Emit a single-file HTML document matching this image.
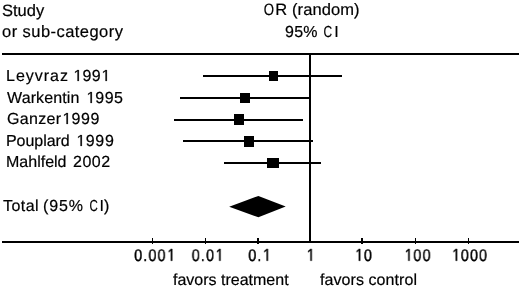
<!DOCTYPE html>
<html><head><meta charset="utf-8">
<style>
html,body{margin:0;padding:0;background:#fff;}
body{width:520px;height:289px;position:relative;overflow:hidden;font-family:"Liberation Sans",sans-serif;color:#000;text-rendering:geometricPrecision;}
.t{position:absolute;white-space:nowrap;font-size:16px;line-height:16px;-webkit-text-stroke:0.2px #000;will-change:transform;}
.h{font-size:16.5px;line-height:16.5px;}
.c{transform:translateX(-50%);}
.ax{font-size:17px;line-height:17px;transform:translateX(-50%) scaleX(0.84);--ls:1.4px;letter-spacing:var(--ls);-webkit-text-stroke:0.45px #000;}
.ax .o path{stroke-width:55;}
.l{position:absolute;background:#000;}
.o{display:inline-block;position:relative;width:0.556em;height:0.688em;margin-right:var(--ls,0px);}
.o svg{position:absolute;left:0;top:0;width:0.556em;height:0.688em;overflow:visible;}
</style></head><body>
<div class="t h" style="left:2px;top:2.9px">Study</div>
<div class="t h" style="left:2px;top:24.2px;--ls:0.45px;letter-spacing:var(--ls)">or sub-category</div>
<div class="t h c" style="left:311px;top:2.3px;--ls:0.08px;letter-spacing:var(--ls)"><span style="display:inline-block;transform:scaleX(0.8)">O</span>R (random)</div>
<div class="t c" style="left:311.9px;top:25.4px;--ls:0.25px;letter-spacing:var(--ls)">95% <span style="display:inline-block;transform:scaleX(0.75)">C</span>I</div>

<div class="l" style="left:2px;top:53px;width:517px;height:2px"></div>

<div class="t" style="left:6.4px;top:68.8px;--ls:0.98px;letter-spacing:var(--ls)">Leyvraz</div>
<div class="t" style="left:73.22px;top:68.8px;--ls:0.49px;letter-spacing:var(--ls)"><span class="o"><svg viewBox="0 0 1139 1409" preserveAspectRatio="none"><path d="M573 1409L573 172L255 399L255 229L588 0L754 0L754 1409Z" fill="#000" stroke="#000" stroke-width="26"/></svg></span>99<span class="o"><svg viewBox="0 0 1139 1409" preserveAspectRatio="none"><path d="M573 1409L573 172L255 399L255 229L588 0L754 0L754 1409Z" fill="#000" stroke="#000" stroke-width="26"/></svg></span></div>
<div class="t" style="left:7.2px;top:90.9px;--ls:0.12px;letter-spacing:var(--ls)">Warkentin</div>
<div class="t" style="left:85.93px;top:90.9px;--ls:0.44px;letter-spacing:var(--ls)"><span class="o"><svg viewBox="0 0 1139 1409" preserveAspectRatio="none"><path d="M573 1409L573 172L255 399L255 229L588 0L754 0L754 1409Z" fill="#000" stroke="#000" stroke-width="26"/></svg></span>995</div>
<div class="t" style="left:6.5px;top:112.1px;--ls:0.3px;letter-spacing:var(--ls)">Ganzer</div>
<div class="t" style="left:62.36px;top:112.1px;--ls:0.61px;letter-spacing:var(--ls)"><span class="o"><svg viewBox="0 0 1139 1409" preserveAspectRatio="none"><path d="M573 1409L573 172L255 399L255 229L588 0L754 0L754 1409Z" fill="#000" stroke="#000" stroke-width="26"/></svg></span>999</div>
<div class="t" style="left:6.4px;top:133.8px;--ls:-0.05px;letter-spacing:var(--ls)">Pouplard</div>
<div class="t" style="left:76.09px;top:133.8px;--ls:0.78px;letter-spacing:var(--ls)"><span class="o"><svg viewBox="0 0 1139 1409" preserveAspectRatio="none"><path d="M573 1409L573 172L255 399L255 229L588 0L754 0L754 1409Z" fill="#000" stroke="#000" stroke-width="26"/></svg></span>999</div>
<div class="t" style="left:6.1px;top:155.4px;--ls:0px;letter-spacing:var(--ls)">Mahlfeld</div>
<div class="t" style="left:72.8px;top:155.4px;--ls:0.53px;letter-spacing:var(--ls)">2002</div>
<div class="t" style="left:3.2px;top:199px;--ls:0.45px;letter-spacing:var(--ls)">Total</div>
<div class="t" style="left:42.9px;top:199px;--ls:0.9px;letter-spacing:var(--ls)">(95%</div>
<div class="t" style="left:88px;top:199px;--ls:0px;letter-spacing:var(--ls)"><span style="display:inline-block;transform:scaleX(0.72)">C</span>I)</div>


<!-- vertical line -->
<div class="l" style="left:309px;top:53px;width:2px;height:190px"></div>

<!-- CI lines -->
<div class="l" style="left:203px;top:75px;width:138.5px;height:1.8px"></div>
<div class="l" style="left:268.5px;top:71px;width:9.5px;height:10px"></div>

<div class="l" style="left:180px;top:96.6px;width:130px;height:2px"></div>
<div class="l" style="left:240.3px;top:92.6px;width:9.7px;height:10px"></div>

<div class="l" style="left:173.6px;top:118.5px;width:129.2px;height:2px"></div>
<div class="l" style="left:234.4px;top:114.2px;width:9.4px;height:10.4px"></div>

<div class="l" style="left:183.2px;top:140px;width:130px;height:2px"></div>
<div class="l" style="left:243.7px;top:136.1px;width:10.5px;height:10.5px"></div>

<div class="l" style="left:223.8px;top:162px;width:97.6px;height:2px"></div>
<div class="l" style="left:267.4px;top:157.6px;width:12px;height:10.6px"></div>

<!-- diamond -->
<svg style="position:absolute;left:0;top:0" width="520" height="289">
<polygon points="229.2,206.7 258.4,195.9 285.7,206.5 258.4,217.3" fill="#000"/>
</svg>

<!-- axis -->
<div class="l" style="left:1.5px;top:241px;width:517.5px;height:2px"></div>
<div class="l" style="left:151.8px;top:238.3px;width:1.5px;height:6px"></div>
<div class="l" style="left:204.6px;top:238.3px;width:1.5px;height:6px"></div>
<div class="l" style="left:257.4px;top:238.3px;width:1.5px;height:6px"></div>
<div class="l" style="left:309px;top:238.3px;width:2px;height:5px"></div>
<div class="l" style="left:361.4px;top:238.3px;width:1.5px;height:6px"></div>
<div class="l" style="left:414.7px;top:238.3px;width:1.5px;height:6px"></div>
<div class="l" style="left:467.9px;top:238.3px;width:1.5px;height:6px"></div>

<div class="t ax" style="left:154.9px;top:246.9px">0.00<span class="o"><svg viewBox="0 0 1139 1409" preserveAspectRatio="none"><path d="M573 1409L573 172L255 399L255 229L588 0L754 0L754 1409Z" fill="#000" stroke="#000" stroke-width="26"/></svg></span></div>
<div class="t ax" style="left:208.2px;top:246.9px">0.0<span class="o"><svg viewBox="0 0 1139 1409" preserveAspectRatio="none"><path d="M573 1409L573 172L255 399L255 229L588 0L754 0L754 1409Z" fill="#000" stroke="#000" stroke-width="26"/></svg></span></div>
<div class="t ax" style="left:260.1px;top:246.9px">0.<span class="o"><svg viewBox="0 0 1139 1409" preserveAspectRatio="none"><path d="M573 1409L573 172L255 399L255 229L588 0L754 0L754 1409Z" fill="#000" stroke="#000" stroke-width="26"/></svg></span></div>
<div class="t ax" style="left:311.3px;top:246.9px"><span class="o"><svg viewBox="0 0 1139 1409" preserveAspectRatio="none"><path d="M573 1409L573 172L255 399L255 229L588 0L754 0L754 1409Z" fill="#000" stroke="#000" stroke-width="26"/></svg></span></div>
<div class="t ax" style="left:364px;top:246.9px"><span class="o"><svg viewBox="0 0 1139 1409" preserveAspectRatio="none"><path d="M573 1409L573 172L255 399L255 229L588 0L754 0L754 1409Z" fill="#000" stroke="#000" stroke-width="26"/></svg></span>0</div>
<div class="t ax" style="left:417.8px;top:246.9px"><span class="o"><svg viewBox="0 0 1139 1409" preserveAspectRatio="none"><path d="M573 1409L573 172L255 399L255 229L588 0L754 0L754 1409Z" fill="#000" stroke="#000" stroke-width="26"/></svg></span>00</div>
<div class="t ax" style="left:470.4px;top:246.9px"><span class="o"><svg viewBox="0 0 1139 1409" preserveAspectRatio="none"><path d="M573 1409L573 172L255 399L255 229L588 0L754 0L754 1409Z" fill="#000" stroke="#000" stroke-width="26"/></svg></span>000</div>

<div class="t" style="left:173px;top:273.3px">favors treatment</div>
<div class="t" style="left:320px;top:273.3px;--ls:0.07px;letter-spacing:var(--ls)">favors control</div>
</body></html>
